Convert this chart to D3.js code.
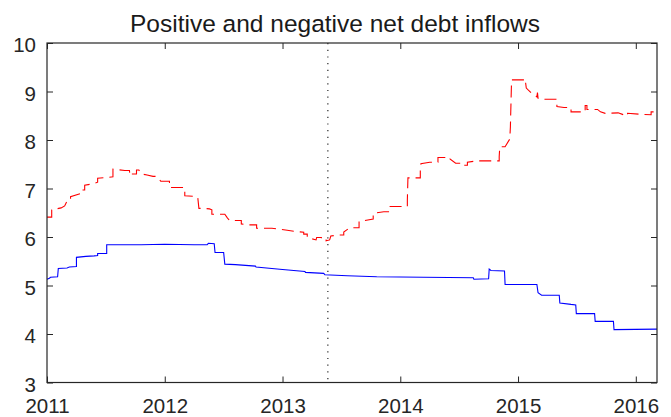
<!DOCTYPE html>
<html>
<head>
<meta charset="utf-8">
<script src="https://cdn.jsdelivr.net/npm/d3@7"></script>
<style>
  body { margin: 0; background: #fff; }
  svg { display: block; font-family: "Liberation Sans", Arial, Helvetica, sans-serif; }
</style>
</head>
<body>
<div id="chart"></div>
<script>
// decimal years / values (steps = repeated x)
const blueYears = [2011.00, 2011.02, 2011.03, 2011.09, 2011.096, 2011.17, 2011.19, 2011.25, 2011.25, 2011.33,
  2011.40, 2011.43, 2011.43, 2011.507, 2011.507, 2011.80, 2012.00, 2012.25, 2012.36, 2012.37,
  2012.42, 2012.427, 2012.50, 2012.51, 2012.60, 2012.77, 2012.775, 2013.00, 2013.19, 2013.195,
  2013.35, 2013.36, 2013.55, 2013.80, 2014.20, 2014.62, 2014.625, 2014.75, 2014.755, 2014.77,
  2014.885, 2014.89, 2015.16, 2015.17, 2015.20, 2015.35, 2015.355, 2015.45, 2015.49, 2015.495,
  2015.65, 2015.655, 2015.81, 2015.815, 2016.18];
const blueValues = [5.13, 5.15, 5.17, 5.18, 5.35, 5.36, 5.38, 5.39, 5.58, 5.60,
  5.61, 5.62, 5.66, 5.66, 5.84, 5.84, 5.85, 5.84, 5.84, 5.87,
  5.86, 5.68, 5.68, 5.44, 5.43, 5.40, 5.38, 5.33, 5.29, 5.27,
  5.25, 5.22, 5.20, 5.18, 5.17, 5.16, 5.13, 5.14, 5.34, 5.31,
  5.30, 5.02, 5.02, 4.85, 4.80, 4.80, 4.64, 4.61, 4.60, 4.42,
  4.42, 4.26, 4.26, 4.09, 4.10];

const redYears = [2011.00, 2011.04, 2011.04, 2011.08, 2011.12, 2011.15, 2011.17, 2011.20, 2011.20, 2011.29,
  2011.29, 2011.32, 2011.32, 2011.40, 2011.43, 2011.43, 2011.52, 2011.56, 2011.56, 2011.66,
  2011.70, 2011.705, 2011.72, 2011.76, 2011.76, 2011.78, 2011.80, 2011.85, 2011.90, 2011.93,
  2011.966, 2012.04, 2012.04, 2012.14, 2012.17, 2012.17, 2012.25, 2012.28, 2012.29, 2012.33,
  2012.38, 2012.40, 2012.40, 2012.51, 2012.53, 2012.55, 2012.65, 2012.65, 2012.71, 2012.78,
  2012.78, 2012.91, 2013.04, 2013.115, 2013.18, 2013.18, 2013.21, 2013.21, 2013.285, 2013.29,
  2013.33, 2013.33, 2013.37, 2013.37, 2013.40, 2013.41, 2013.47, 2013.52, 2013.52, 2013.57,
  2013.65, 2013.65, 2013.77, 2013.77, 2013.86, 2013.90, 2013.90, 2014.06, 2014.06, 2014.065,
  2014.17, 2014.17, 2014.175, 2014.25, 2014.32, 2014.32, 2014.38, 2014.38, 2014.42, 2014.47,
  2014.52, 2014.52, 2014.57, 2014.57, 2014.65, 2014.84, 2014.84, 2014.845, 2014.89, 2014.93,
  2014.935, 2014.945, 2015.06, 2015.06, 2015.07, 2015.12, 2015.16, 2015.165, 2015.17, 2015.21,
  2015.33, 2015.33, 2015.39, 2015.45, 2015.45, 2015.57, 2015.57, 2015.585, 2015.585, 2015.675,
  2015.70, 2015.74, 2015.85, 2015.92, 2015.93, 2015.93, 2016.04, 2016.13, 2016.13, 2016.18];
const redValues = [6.41, 6.41, 6.56, 6.58, 6.60, 6.64, 6.74, 6.76, 6.83, 6.90,
  6.97, 6.97, 7.07, 7.10, 7.13, 7.21, 7.23, 7.24, 7.40, 7.37,
  7.37, 7.26, 7.30, 7.30, 7.38, 7.38, 7.30, 7.28, 7.25, 7.25,
  7.15, 7.15, 7.02, 7.02, 7.02, 6.85, 6.84, 6.82, 6.59, 6.59,
  6.58, 6.56, 6.47, 6.47, 6.40, 6.34, 6.34, 6.27, 6.25, 6.25,
  6.18, 6.18, 6.14, 6.11, 6.10, 6.06, 6.06, 5.99, 5.94, 5.99,
  5.99, 5.95, 5.95, 5.92, 5.94, 6.02, 6.04, 6.04, 6.10, 6.19,
  6.19, 6.32, 6.37, 6.49, 6.52, 6.52, 6.63, 6.63, 6.76, 7.22,
  7.22, 7.38, 7.51, 7.54, 7.54, 7.64, 7.64, 7.61, 7.61, 7.52,
  7.52, 7.48, 7.48, 7.54, 7.57, 7.57, 7.66, 7.86, 7.86, 8.02,
  8.27, 9.24, 9.24, 9.26, 9.07, 8.95, 8.89, 8.98, 8.86, 8.84,
  8.84, 8.69, 8.67, 8.67, 8.58, 8.58, 8.71, 8.71, 8.63, 8.63,
  8.58, 8.55, 8.56, 8.50, 8.50, 8.55, 8.53, 8.52, 8.58, 8.58];

const xTicks = [2011, 2012, 2013, 2014, 2015, 2016];
const yTicks = [3, 4, 5, 6, 7, 8, 9, 10];
const eventYear = 2013.385;
const title = "Positive and negative net debt inflows";

const W = 671, H = 417;
const padL = 47, padR = 657, padT = 43, padB = 382.5;
const ink = "#262626";

const svg = d3.select("#chart").append("svg").attr("width", W).attr("height", H);

const x = d3.scaleLinear().domain([2011, 2016.18]).range([padL, padR]);
const y = d3.scaleLinear().domain([3, 10]).range([padB, padT]);

const line = d3.line().x(d => x(d[0])).y(d => y(d[1]));

const plot = svg.append("g");

plot.append("line")
  .attr("x1", x(eventYear)).attr("x2", x(eventYear))
  .attr("y1", padT).attr("y2", padB)
  .attr("stroke", ink).attr("stroke-width", 1.2)
  .attr("stroke-dasharray", "1.2,5.5");

plot.append("path")
  .datum(d3.zip(redYears, redValues))
  .attr("d", line)
  .attr("fill", "none").attr("stroke", "#ff0000").attr("stroke-width", 1.1)
  .attr("stroke-dasharray", "12,6");

plot.append("path")
  .datum(d3.zip(blueYears, blueValues))
  .attr("d", line)
  .attr("fill", "none").attr("stroke", "#0000ff").attr("stroke-width", 1.1);

// axes, MATLAB-like box with inward ticks on every side
function styleAxis(g) {
  g.select(".domain").remove();
  g.selectAll(".tick line").attr("stroke", ink).attr("stroke-width", 1);
  g.selectAll(".tick text").attr("fill", ink).attr("font-size", 20.5);
}

svg.append("g").attr("transform", `translate(0,${padB})`)
  .call(d3.axisBottom(x).tickValues(xTicks).tickFormat(d3.format("d")).tickSize(-6).tickPadding(16))
  .call(styleAxis);
svg.append("g").attr("transform", `translate(0,${padT})`)
  .call(d3.axisTop(x).tickValues(xTicks).tickFormat("").tickSize(-6))
  .call(styleAxis);
svg.append("g").attr("transform", `translate(${padL},0)`)
  .call(d3.axisLeft(y).tickValues(yTicks).tickFormat(d3.format("d")).tickSize(-6).tickPadding(11))
  .call(styleAxis)
  .selectAll(".tick text").attr("dy", "0.42em");
svg.append("g").attr("transform", `translate(${padR},0)`)
  .call(d3.axisRight(y).tickValues(yTicks).tickFormat("").tickSize(-6))
  .call(styleAxis);

svg.append("rect")
  .attr("x", padL).attr("y", padT)
  .attr("width", padR - padL).attr("height", padB - padT)
  .attr("fill", "none").attr("stroke", ink).attr("stroke-width", 1.2);

svg.append("text")
  .attr("x", 335).attr("y", 31.5)
  .attr("text-anchor", "middle")
  .attr("font-size", 24.5)
  .attr("fill", "#1a1a1a")
  .text(title);
</script>
</body>
</html>
